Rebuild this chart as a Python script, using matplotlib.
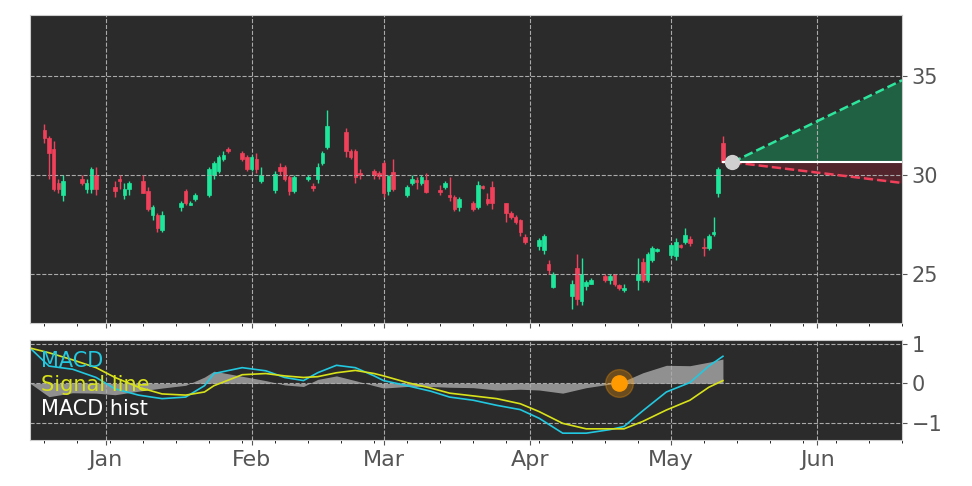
#!/usr/bin/env python3

import numpy as np
import pandas as pd
import matplotlib
matplotlib.use("Agg")
import matplotlib.pyplot as plt
import matplotlib.dates as mdates

opens = [32.3, 31.9, 31.3, 29.6, 29.0, 29.8, 29.3, 29.3, 30.0, 29.4,
         29.8, 29.0, 29.3, 29.7, 29.2, 28.0, 28.0, 27.2, 28.4, 29.2,
         28.5, 28.8, 29.0, 30.0, 30.2, 30.8, 31.3, 31.1, 30.9, 30.3,
         30.8, 29.7, 29.25, 30.4, 30.4, 29.9, 29.2, 29.8, 29.45, 29.8,
         30.6, 31.4, 32.2, 31.2, 31.2, 30.1, 30.2, 30.1, 30.6, 29.2,
         30.15, 29.0, 29.6, 29.75, 29.6, 29.75, 29.25, 29.4, 29.0, 28.9,
         28.4, 28.6, 28.4, 29.45, 28.8, 29.4, 28.6, 28.1, 27.9, 27.7,
         26.87, 26.4, 26.2, 25.5, 24.35, 23.9, 25.3, 23.6, 24.4, 24.5,
         24.9, 24.7, 25.0, 24.45, 24.2, 24.7, 25.6, 24.7, 25.7, 26.15,
         25.95, 25.9, 26.45, 26.6, 26.75, 26.35, 26.3, 27.0, 29.1, 31.6]
closes = [31.9, 31.1, 29.3, 29.3, 29.7, 29.6, 29.6, 30.3, 29.3, 29.2,
          29.7, 29.3, 29.6, 29.1, 28.3, 28.4, 27.3, 28.0, 28.6, 28.6,
          28.6, 29.0, 30.3, 30.6, 30.9, 31.0, 31.2, 30.8, 30.3, 30.9,
          30.3, 30.0, 30.05, 30.2, 29.8, 29.2, 29.9, 29.9, 29.35, 30.4,
          31.1, 32.5, 31.2, 30.9, 29.9, 30.0, 30.0, 29.95, 29.1, 29.95,
          29.3, 29.4, 29.8, 29.65, 29.9, 29.15, 29.15, 29.6, 28.9, 28.3,
          28.8, 28.3, 29.5, 29.35, 28.6, 28.6, 28.1, 27.9, 27.6, 27.1,
          26.6, 26.7, 26.9, 25.2, 25.0, 24.5, 23.7, 25.0, 24.6, 24.7,
          24.7, 24.9, 24.5, 24.3, 24.3, 25.0, 24.7, 26.0, 26.3, 26.25,
          26.45, 26.6, 26.35, 26.95, 26.55, 26.3, 26.9, 27.1, 30.3, 30.65]
highs = [32.6, 32.0, 31.7, 29.8, 30.0, 30.0, 29.8, 30.4, 30.4, 29.7,
         30.0, 29.6, 29.7, 30.0, 29.4, 28.5, 28.1, 28.2, 28.7, 29.3,
         28.7, 29.1, 30.4, 30.7, 31.0, 31.2, 31.4, 31.2, 31.0, 31.0,
         31.1, 30.4, 30.2, 30.6, 30.5, 30.0, 30.0, 30.0, 29.6, 30.6,
         31.2, 33.3, 32.4, 31.3, 31.3, 30.3, 30.3, 30.2, 30.7, 30.0,
         30.8, 29.5, 30.0, 29.9, 30.0, 30.1, 29.5, 29.7, 29.9, 29.0,
         28.9, 28.7, 29.7, 29.5, 29.1, 29.7, 28.6, 28.2, 28.0, 27.8,
         27.0, 26.8, 27.0, 25.7, 25.1, 24.7, 26.0, 25.8, 24.7, 24.8,
         25.0, 25.0, 25.0, 24.5, 24.5, 25.8, 25.8, 26.1, 26.4, 26.3,
         26.5, 26.8, 26.5, 27.3, 26.9, 26.8, 27.0, 27.9, 30.4, 32.0]
lows = [31.6, 29.8, 29.2, 29.1, 28.7, 29.5, 29.1, 29.1, 29.0, 28.9,
        29.3, 28.8, 29.0, 29.1, 28.2, 27.7, 27.1, 27.1, 28.2, 28.5,
        28.5, 28.7, 28.9, 29.8, 30.1, 30.7, 31.1, 30.7, 30.2, 30.2,
        30.1, 29.6, 29.1, 30.0, 29.7, 29.0, 29.1, 29.7, 29.2, 29.6,
        30.5, 31.3, 30.9, 30.8, 29.6, 29.8, 29.8, 29.8, 28.9, 29.0,
        29.2, 28.9, 29.5, 29.3, 29.5, 29.1, 29.0, 29.3, 28.7, 28.2,
        28.2, 28.2, 28.3, 29.3, 28.5, 28.3, 27.6, 27.8, 27.5, 26.9,
        26.5, 26.2, 26.0, 25.0, 24.3, 23.2, 23.4, 23.4, 24.2, 24.5,
        24.6, 24.5, 24.4, 24.2, 24.1, 24.2, 24.6, 24.6, 25.6, 26.1,
        25.8, 25.7, 26.3, 26.5, 26.4, 25.9, 26.2, 26.9, 28.9, 30.6]

macd_dates = ["2022-12-16", "2022-12-20", "2022-12-25", "2022-12-30", "2023-01-03",
              "2023-01-08", "2023-01-13", "2023-01-18", "2023-01-22", "2023-01-24",
              "2023-01-30", "2023-02-04", "2023-02-08", "2023-02-12", "2023-02-15",
              "2023-02-19", "2023-02-23", "2023-02-27", "2023-03-01", "2023-03-06",
              "2023-03-11", "2023-03-15", "2023-03-20", "2023-03-25", "2023-03-30",
              "2023-04-03", "2023-04-08", "2023-04-13", "2023-04-18", "2023-04-21",
              "2023-04-25", "2023-04-30", "2023-05-05", "2023-05-09", "2023-05-12"]
macd = [0.9, 0.44, 0.36, 0.15, -0.14, -0.3, -0.39, -0.35, -0.06, 0.25,
        0.4, 0.32, 0.15, 0.07, 0.27, 0.46, 0.4, 0.19, 0.07, -0.06,
        -0.2, -0.35, -0.43, -0.56, -0.67, -0.89, -1.27, -1.27, -1.18, -1.1,
        -0.7, -0.22, 0.02, 0.44, 0.69]
signal = [0.9, 0.78, 0.6, 0.4, 0.15, -0.1, -0.27, -0.3, -0.22, -0.06,
          0.22, 0.25, 0.19, 0.15, 0.17, 0.27, 0.33, 0.25, 0.19, 0.02,
          -0.12, -0.25, -0.32, -0.39, -0.52, -0.72, -1.02, -1.16, -1.16, -1.16,
          -0.97, -0.68, -0.43, -0.1, 0.07]

cross_date = "2023-04-20"
proj_start = "2023-05-14"
proj_end = "2023-06-19"
proj_base = 30.65
proj_high = 34.8
proj_low = 29.6

BG = "#2b2b2b"
UP = "#1ee69b"
DOWN = "#f0405a"
TXT = "#555555"


def main():
    holidays = pd.to_datetime(["2022-12-26", "2023-01-02", "2023-01-16",
                               "2023-02-20", "2023-04-07"])
    days = pd.bdate_range("2022-12-15", "2023-05-12")
    days = days[~days.isin(holidays)][-len(opens):]
    x = mdates.date2num(days)

    fig = plt.figure(figsize=(9.72, 4.86), dpi=100)
    ax = fig.add_axes([0.031, 0.335, 0.897, 0.634])
    ax2 = fig.add_axes([0.031, 0.095, 0.897, 0.205], sharex=ax)

    for a in (ax, ax2):
        a.set_facecolor(BG)
        a.grid(True, color="#aaaaaa", linestyle="--", linewidth=0.8)
        a.yaxis.tick_right()
        a.tick_params(colors=TXT, labelsize=15)
        for s in a.spines.values():
            s.set_color("#cccccc")

    for xi, o, c, h, l in zip(x, opens, closes, highs, lows):
        col = UP if c >= o else DOWN
        ax.vlines(xi, l, h, color=col, linewidth=1)
        ax.bar(xi, abs(c - o) or 0.05, bottom=min(o, c), width=0.75,
               color=col, edgecolor=col, linewidth=0.5)

    p0 = mdates.datestr2num(proj_start)
    p1 = mdates.datestr2num(proj_end)
    ax.plot([p0, p1], [proj_base, proj_high], "--", color="#2ee59d", lw=1.8)
    ax.plot([p0, p1], [proj_base, proj_low], "--", color="#f0405a", lw=1.8)
    ax.fill_between([p0, p1], [proj_base, proj_base], [proj_base, proj_high],
                    color="#1e6e4a", alpha=0.8, lw=0)
    ax.fill_between([p0, p1], [proj_base, proj_base], [proj_base, proj_low],
                    color="#7a2030", alpha=0.5, lw=0)
    ax.plot([x[-1], p1], [proj_base, proj_base], color="white", lw=1.5)
    ax.plot(p0, proj_base, "o", color="#d0d0d0", ms=10, zorder=5)

    ax.set_ylim(22.5, 38.1)
    ax.set_yticks([25, 30, 35])
    ax.set_xlim(mdates.datestr2num("2022-12-16"), mdates.datestr2num("2023-06-19"))
    ax.tick_params(labelbottom=False)

    md = mdates.datestr2num(macd_dates)
    hist = np.array(macd) - np.array(signal)
    ax2.fill_between(md, 0, hist, color="#aaaaaa", alpha=0.8, lw=0)
    ax2.plot(md, macd, color="#22c8e0", lw=1.2, label="MACD")
    ax2.plot(md, signal, color="#d8e21a", lw=1.2, label="Signal line")
    ax2.plot([], [], color=BG, label="MACD hist")
    cx = mdates.datestr2num(cross_date)
    ax2.plot(cx, 0, "o", color="#ff9a00", ms=20, alpha=0.3, zorder=5)
    ax2.plot(cx, 0, "o", color="#ff9a00", ms=11, zorder=6)
    ax2.set_ylim(-1.44, 1.1)
    ax2.set_yticks([-1, 0, 1])
    ax2.xaxis.set_major_locator(mdates.MonthLocator())
    ax2.xaxis.set_major_formatter(mdates.DateFormatter("%b"))
    ax2.xaxis.set_minor_locator(mdates.WeekdayLocator(byweekday=mdates.MO))
    ax2.tick_params(axis="x", which="major", labelsize=16)

    leg = ax2.legend(loc="upper left", frameon=False, fontsize=15,
                     handlelength=0, handletextpad=0, borderaxespad=0.1,
                     labelspacing=0.2)
    for t, c in zip(leg.get_texts(), ["#22c8e0", "#d8e21a", "white"]):
        t.set_color(c)

    fig.savefig("out.png", dpi=100)


if __name__ == "__main__":
    main()
